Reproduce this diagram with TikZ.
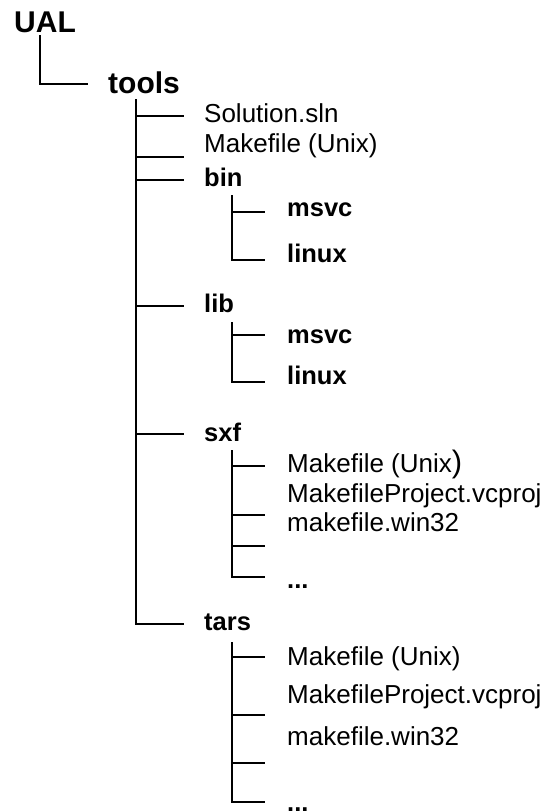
\documentclass[tikz,border=0pt]{standalone}
\usepackage{fontspec}
\setmainfont{Liberation Sans}

\tikzset{
    rootdir/.style={anchor=base west, inner sep=0pt, font=\fontsize{30}{34}\selectfont\bfseries},
    subdir/.style={anchor=base west, inner sep=0pt, font=\fontsize{25.5}{30}\selectfont\bfseries},
    plainfile/.style={anchor=base west, inner sep=0pt, font=\fontsize{26}{30}\selectfont},
    branch/.style={black, line width=2pt}
}

\begin{document}
\begin{tikzpicture}[x=1pt, y=-1pt]
            \useasboundingbox (0,0) rectangle (547,812);

            \node[rootdir] (ual) at (14,32) {UAL};
            \node[rootdir] (tools) at (108,93) {tools};

            \node[plainfile] (solution) at (204,122) {Solution.sln};
            \node[plainfile] (makeunix) at (204,152) {Makefile (Unix)};
            \node[subdir] (bin) at (204,186) {bin};
            \node[subdir] (lib) at (204,312) {lib};
            \node[subdir] (sxf) at (204,441) {sxf};
            \node[subdir] (tars) at (204,630) {tars};

            \node[subdir] (binmsvc) at (287,216) {msvc};
            \node[subdir] (binlinux) at (287,262) {linux};
            \node[subdir] (libmsvc) at (287,343) {msvc};
            \node[subdir] (liblinux) at (287,384) {linux};

            \node[plainfile] (sxfmake) at (287,472) {Makefile (Unix{\fontsize{31}{34}\selectfont)}};
            \node[plainfile] (sxfproj) at (287,502) {MakefileProject.vcproj};
            \node[plainfile] (sxfwin) at (287,531) {makefile.win32};
            \node[subdir] (sxfmore) at (287,588) {...};

            \node[plainfile] (tarsmake) at (287,665) {Makefile (Unix)};
            \node[plainfile] (tarsproj) at (287,703) {MakefileProject.vcproj};
            \node[plainfile] (tarswin) at (287,745) {makefile.win32};
            \node[subdir] (tarsmore) at (287,811) {...};

            \coordinate (ualdrop) at (40,35);
            \coordinate (toolsdrop) at (136,99);
            \coordinate (bindrop) at (232,195);
            \coordinate (libdrop) at (232,322);
            \coordinate (sxfdrop) at (232,450);
            \coordinate (tarsdrop) at (232,642);

            \draw[branch] (ualdrop) |- (88,84);

            \draw[branch] (toolsdrop) |- (184,624);
            \draw[branch] (toolsdrop |- 0,116) -- (184,116);
            \draw[branch] (toolsdrop |- 0,157) -- (184,157);
            \draw[branch] (toolsdrop |- 0,180) -- (184,180);
            \draw[branch] (toolsdrop |- 0,306) -- (184,306);
            \draw[branch] (toolsdrop |- 0,434) -- (184,434);

            \draw[branch] (bindrop) |- (265,260);
            \draw[branch] (bindrop |- 0,212) -- (265,212);

            \draw[branch] (libdrop) |- (265,382);
            \draw[branch] (libdrop |- 0,335) -- (265,335);

            \draw[branch] (sxfdrop) |- (265,577);
            \draw[branch] (sxfdrop |- 0,466) -- (265,466);
            \draw[branch] (sxfdrop |- 0,515) -- (265,515);
            \draw[branch] (sxfdrop |- 0,546) -- (265,546);

            \draw[branch] (tarsdrop) |- (265,802);
            \draw[branch] (tarsdrop |- 0,657) -- (265,657);
            \draw[branch] (tarsdrop |- 0,715) -- (265,715);
            \draw[branch] (tarsdrop |- 0,763) -- (265,763);
        \end{tikzpicture}
\end{document}
